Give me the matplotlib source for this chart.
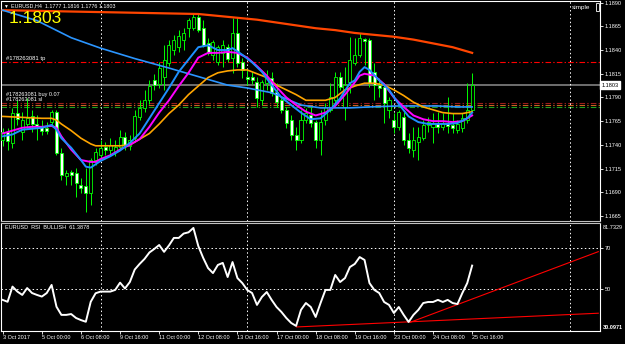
import matplotlib.pyplot as plt
from matplotlib.patches import Rectangle
from matplotlib.transforms import blended_transform_factory

plt.rcParams['font.family'] = ['Liberation Sans', 'DejaVu Sans']

## EURUSD H4 candles, bar 0 = 3 Oct 2017 16:00, bar 96 = 25 Oct 16:00
opens = [1.1745, 1.1754, 1.1742, 1.1774, 1.1754, 1.1762, 1.1770, 1.1762, 1.1760, 1.1758,
         1.1764, 1.1775, 1.1731, 1.1707, 1.1711, 1.1710, 1.1698, 1.1697, 1.1689, 1.1724,
         1.1729, 1.1738, 1.1735, 1.1732, 1.1738, 1.1748, 1.1739, 1.1747, 1.1769, 1.1779,
         1.1787, 1.1808, 1.1804, 1.1812, 1.1826, 1.1840, 1.1843, 1.1851, 1.1863, 1.1863,
         1.1875, 1.1863, 1.1847, 1.1835, 1.1827, 1.1837, 1.1843, 1.1832, 1.1858, 1.1827,
         1.1812, 1.1812, 1.1806, 1.1787, 1.1805, 1.1811, 1.1796, 1.1787, 1.1777, 1.1766,
         1.1750, 1.1745, 1.1766, 1.1771, 1.1764, 1.1745, 1.1766, 1.1777, 1.1787, 1.1812,
         1.1780, 1.1806, 1.1826, 1.1835, 1.1852, 1.1851, 1.1817, 1.1803, 1.1801, 1.1777,
         1.1766, 1.1759, 1.1769, 1.1745, 1.1735, 1.1743, 1.1747, 1.1761, 1.1759, 1.1763,
         1.1759, 1.1763, 1.1761, 1.1756, 1.1758, 1.1766, 1.1777]
highs = [1.1758, 1.1758, 1.1779, 1.1787, 1.1775, 1.1789, 1.1777, 1.1771, 1.1766, 1.1764,
         1.1777, 1.1777, 1.1737, 1.1713, 1.1713, 1.1716, 1.1705, 1.1716, 1.1726, 1.1737,
         1.1745, 1.1743, 1.1747, 1.1745, 1.1756, 1.1754, 1.1750, 1.1777, 1.1787, 1.1798,
         1.1808, 1.1815, 1.1827, 1.1845, 1.1851, 1.1856, 1.1861, 1.1863, 1.1874, 1.1879,
         1.1879, 1.1872, 1.1853, 1.1851, 1.1845, 1.1851, 1.1846, 1.1874, 1.1875, 1.1832,
         1.1819, 1.1817, 1.1812, 1.1808, 1.1819, 1.1817, 1.1805, 1.1789, 1.1780, 1.1771,
         1.1759, 1.1777, 1.1779, 1.1780, 1.1766, 1.1777, 1.1784, 1.1805, 1.1817, 1.1817,
         1.1822, 1.1854, 1.1853, 1.1858, 1.1853, 1.1853, 1.1826, 1.1811, 1.1805, 1.1790,
         1.1774, 1.1777, 1.1775, 1.1752, 1.1759, 1.1759, 1.1766, 1.1769, 1.1774, 1.1775,
         1.1774, 1.1790, 1.1774, 1.1766, 1.1774, 1.1805, 1.1816]
lows = [1.1739, 1.1735, 1.1737, 1.1761, 1.1745, 1.1758, 1.1754, 1.1745, 1.1750, 1.1751,
        1.1760, 1.1729, 1.1703, 1.1698, 1.1698, 1.1685, 1.1689, 1.1669, 1.1677, 1.1719,
        1.1724, 1.1729, 1.1729, 1.1728, 1.1735, 1.1735, 1.1735, 1.1743, 1.1766, 1.1775,
        1.1783, 1.1798, 1.1800, 1.1798, 1.1823, 1.1835, 1.1838, 1.1840, 1.1854, 1.1861,
        1.1859, 1.1843, 1.1835, 1.1830, 1.1824, 1.1822, 1.1827, 1.1816, 1.1822, 1.1811,
        1.1803, 1.1804, 1.1780, 1.1782, 1.1798, 1.1792, 1.1780, 1.1774, 1.1758, 1.1745,
        1.1735, 1.1742, 1.1763, 1.1759, 1.1737, 1.1729, 1.1761, 1.1775, 1.1784, 1.1798,
        1.1766, 1.1795, 1.1824, 1.1833, 1.1824, 1.1801, 1.1787, 1.1790, 1.1763, 1.1768,
        1.1752, 1.1756, 1.1740, 1.1731, 1.1727, 1.1724, 1.1745, 1.1754, 1.1742, 1.1752,
        1.1756, 1.1752, 1.1752, 1.1752, 1.1754, 1.1763, 1.1776]
closes = [1.1754, 1.1744, 1.1774, 1.1767, 1.1766, 1.1768, 1.1762, 1.1760, 1.1755, 1.1755,
          1.1775, 1.1731, 1.1708, 1.1710, 1.1708, 1.1700, 1.1694, 1.1689, 1.1724, 1.1732,
          1.1737, 1.1735, 1.1740, 1.1738, 1.1748, 1.1740, 1.1745, 1.1770, 1.1779, 1.1787,
          1.1802, 1.1803, 1.1821, 1.1830, 1.1845, 1.1851, 1.1855, 1.1858, 1.1872, 1.1875,
          1.1861, 1.1845, 1.1837, 1.1848, 1.1843, 1.1845, 1.1831, 1.1858, 1.1826, 1.1819,
          1.1809, 1.1808, 1.1789, 1.1806, 1.1812, 1.1795, 1.1785, 1.1777, 1.1763, 1.1750,
          1.1745, 1.1766, 1.1774, 1.1763, 1.1745, 1.1764, 1.1780, 1.1790, 1.1812, 1.1801,
          1.1803, 1.1830, 1.1835, 1.1853, 1.1850, 1.1805, 1.1803, 1.1800, 1.1784, 1.1787,
          1.1759, 1.1775, 1.1745, 1.1737, 1.1745, 1.1748, 1.1761, 1.1764, 1.1763, 1.1759,
          1.1763, 1.1760, 1.1758, 1.1762, 1.1768, 1.1777, 1.1803]

## moving averages (bar index, price)
fast_bars = [0, 2, 4, 6, 8, 10, 11, 12, 14, 16, 17, 18, 20, 22, 24, 26, 28, 30, 32, 34,
             36, 38, 40, 42, 44, 46, 47, 49, 51, 53, 55, 57, 59, 61, 63, 65, 67, 69, 71, 72,
             73, 74, 75, 77, 79, 81, 83, 85, 87, 89, 91, 93, 95, 96]
fast_vals = [1.1749, 1.1751, 1.1756, 1.1757, 1.1758, 1.1761, 1.1756, 1.1747, 1.1737, 1.1724,
             1.1717, 1.1716, 1.1723, 1.1728, 1.1734, 1.1742, 1.1752, 1.1768, 1.1784, 1.1800,
             1.1817, 1.1830, 1.1843, 1.1845, 1.1840, 1.1840, 1.1842, 1.1835, 1.1827, 1.1817,
             1.1803, 1.1790, 1.1782, 1.1774, 1.1767, 1.1768, 1.1777, 1.1789, 1.1805, 1.1808,
             1.1817, 1.1822, 1.1819, 1.1808, 1.1798, 1.1783, 1.1770, 1.1764, 1.1762, 1.1762,
             1.1762, 1.1763, 1.1768, 1.1774]
mid_bars = [0, 2, 4, 6, 8, 10, 11, 12, 14, 16, 18, 19, 20, 22, 24, 26, 28, 30, 32, 34,
            36, 38, 40, 42, 44, 46, 48, 50, 52, 54, 56, 58, 60, 62, 64, 66, 68, 70, 72, 73,
            74, 76, 78, 80, 82, 84, 86, 88, 90, 92, 94, 96]
mid_vals = [1.1752, 1.1755, 1.1758, 1.1759, 1.1759, 1.1760, 1.1758, 1.1749, 1.1735, 1.1724,
            1.1722, 1.1722, 1.1725, 1.1729, 1.1735, 1.1740, 1.1746, 1.1759, 1.1774, 1.1787,
            1.1802, 1.1816, 1.1832, 1.1837, 1.1837, 1.1838, 1.1837, 1.1832, 1.1823, 1.1813,
            1.1801, 1.1790, 1.1782, 1.1775, 1.1771, 1.1774, 1.1781, 1.1793, 1.1806, 1.1813,
            1.1815, 1.1813, 1.1804, 1.1790, 1.1780, 1.1771, 1.1767, 1.1765, 1.1765, 1.1764,
            1.1765, 1.1771]
slow_bars = [0, 4, 8, 10, 11, 12, 14, 16, 18, 19, 20, 22, 24, 26, 28, 30, 32, 34, 36, 38,
             40, 42, 44, 46, 48, 50, 52, 54, 56, 58, 60, 62, 64, 66, 68, 70, 72, 74, 76, 78,
             80, 82, 84, 86, 88, 90, 92, 94, 96]
slow_vals = [1.1770, 1.1769, 1.1768, 1.1768, 1.1766, 1.1762, 1.1755, 1.1747, 1.1741, 1.1739,
             1.1739, 1.1739, 1.1739, 1.1740, 1.1746, 1.1752, 1.1762, 1.1773, 1.1782, 1.1793,
             1.1802, 1.1811, 1.1816, 1.1818, 1.1819, 1.1819, 1.1815, 1.1811, 1.1803, 1.1798,
             1.1793, 1.1787, 1.1787, 1.1787, 1.1790, 1.1798, 1.1802, 1.1805, 1.1805, 1.1803,
             1.1798, 1.1792, 1.1785, 1.1780, 1.1777, 1.1774, 1.1773, 1.1773, 1.1775]
long_bars = [0, 7, 14, 20, 27, 34, 40, 46, 50, 55, 61, 65, 71, 75, 81, 89, 93, 96]
long_vals = [1.1882, 1.1871, 1.1853, 1.1842, 1.1831, 1.1821, 1.1812, 1.1803, 1.1800, 1.1795,
             1.1782, 1.1779, 1.1779, 1.1780, 1.1781, 1.1781, 1.1780, 1.1780]
trend_bars = [0, 10, 20, 30, 40, 44, 48, 52, 56, 60, 64, 68, 72, 76, 80, 84, 88, 92, 96]
trend_vals = [1.1882, 1.1881, 1.1880, 1.1879, 1.1878, 1.1876, 1.1874, 1.1872, 1.1869, 1.1866,
              1.1863, 1.1861, 1.1858, 1.1856, 1.1854, 1.1851, 1.1847, 1.1843, 1.1837]

## RSI per bar
rsi_vals = [44.9, 44.0, 51.3, 48.9, 47.3, 50.6, 48.2, 47.3, 46.5, 48.2,
            52.1, 41.6, 37.7, 37.7, 38.1, 36.2, 35.2, 34.4, 44.0, 48.1,
            48.9, 48.9, 48.9, 49.7, 53.2, 50.4, 53.5, 59.5, 62.2, 64.6,
            67.7, 69.4, 71.3, 68.0, 71.1, 74.7, 74.7, 76.8, 77.4, 79.5,
            70.8, 65.1, 60.2, 57.8, 61.7, 62.7, 55.9, 63.1, 55.4, 53.0,
            49.7, 48.2, 42.5, 46.3, 48.7, 44.9, 41.5, 39.1, 36.2, 33.8,
            32.4, 40.1, 43.4, 41.5, 36.7, 43.4, 49.7, 49.7, 56.9, 53.5,
            55.4, 60.7, 62.2, 65.5, 64.1, 53.0, 49.7, 48.2, 43.9, 42.5,
            38.6, 41.5, 37.7, 34.3, 37.7, 40.1, 43.4, 43.9, 43.9, 44.9,
            43.9, 44.9, 43.4, 42.9, 48.2, 53.0, 61.4]
rsi_min, rsi_max = 30.0971, 81.7329
# trend lines drawn on RSI: (bar, value) endpoints
rsi_line_low = ([60.1, 121.8], [31.9, 38.5])
rsi_line_up = ([83.3, 121.8], [34.1, 68.1])

## levels
tp_level = 1.1827
order_levels = [1.1784, 1.1782, 1.1780]
order_colors = ['#9b1c1c', '#c8641e', '#1fa01f']
bid = 1.1803

price_ticks = [1.1890, 1.1865, 1.1840, 1.1815, 1.1790, 1.1765, 1.1740, 1.1715, 1.1690, 1.1665]
date_bars = [0, 8, 16, 24, 32, 40, 48, 56, 64, 72, 80, 88, 96]
date_labels = ['3 Oct 2017', '5 Oct 00:00', '6 Oct 08:00', '9 Oct 16:00', '11 Oct 00:00',
               '12 Oct 08:00', '13 Oct 16:00', '17 Oct 00:00', '18 Oct 08:00', '19 Oct 16:00',
               '23 Oct 00:00', '24 Oct 08:00', '25 Oct 16:00']
grid_bars = [20, 50, 80, 116]

# figure layout in pixels
W, H = 625, 344


def box(x0, y0, x1, y1):
    return [x0 / W, 1 - y1 / H, (x1 - x0) / W, (y1 - y0) / H]


fig = plt.figure(figsize=(6.25, 3.44), dpi=100, facecolor='black')
ax = fig.add_axes(box(1, 1, 600, 221), facecolor='black')
ax2 = fig.add_axes(box(1, 223.3, 600, 330.7), facecolor='black')

xlim = (-0.35, 122.15)
dotted = (0, (1.5, 2.5))

## candles
x = list(range(len(opens)))
body_lo = [min(o, c) for o, c in zip(opens, closes)]
body_h = [max(abs(c - o), 0.00003) for o, c in zip(opens, closes)]
fills = ['black' if c >= o else 'white' for o, c in zip(opens, closes)]
ax.vlines(x, lows, highs, color='#00ff00', lw=0.7, zorder=2)
ax.bar(x, body_h, bottom=body_lo, width=0.62, color=fills, edgecolor='#00ff00',
       linewidth=0.6, zorder=3)

# moving averages
ax.plot(trend_bars, trend_vals, color='#ff4500', lw=1.6, zorder=4)
ax.plot(long_bars, long_vals, color='#2b95ff', lw=1.2, zorder=4)
ax.plot(slow_bars, slow_vals, color='#ffa500', lw=1.2, zorder=5)
ax.plot(mid_bars, mid_vals, color='#ff00ff', lw=1.4, zorder=6)
ax.plot(fast_bars, fast_vals, color='#1e90ff', lw=1.4, zorder=7)

# price / order lines
ax.axhline(bid, color='#6e6e6e', lw=1.4, zorder=1)
ax.axhline(tp_level, color='#ff0000', lw=0.8, ls=(0, (5, 2, 1.2, 2)), zorder=1)
for lvl, col in zip(order_levels, order_colors):
    ax.axhline(lvl, color=col, lw=0.8, ls=(0, (5, 2, 1.2, 2)), zorder=1)

for b in grid_bars:
    ax.axvline(b, color='white', lw=0.7, ls=dotted, zorder=1)
    ax2.axvline(b, color='white', lw=0.7, ls=dotted, zorder=1)

blend = blended_transform_factory(ax.transAxes, ax.transData)
ax.text(0.009, tp_level + 0.0001, '#178263081 tp', transform=blend, color='white',
        fontsize=4.2, va='bottom')
# the two order labels sit one above the other
ax.text(0.009, order_levels[0] + 0.00062, '#178263081 buy 0.07', transform=blend,
        color='white', fontsize=4.0, va='bottom')
ax.text(0.009, order_levels[0] + 0.0001, '#178263081 sl', transform=blend,
        color='white', fontsize=4.0, va='bottom')
ax.text(1.002, bid, '1.1803', transform=blend, color='black', fontsize=4, va='center',
        ha='left', clip_on=False, zorder=10,
        bbox=dict(boxstyle='square,pad=0.3', fc='white', ec='white'))

ax.set_xlim(*xlim)
ax.set_ylim(1.16597, 1.18917)
ax.set_xticks([])
ax.yaxis.tick_right()
ax.set_yticks(price_ticks)
ax.set_yticklabels([f'{p:.4f}' for p in price_ticks])
ax.tick_params(axis='y', colors='white', labelsize=4, length=2, width=0.6, pad=1.5)

## RSI panel
ax2.plot(x, rsi_vals, color='white', lw=1.4, zorder=4)
ax2.plot(*rsi_line_low, color='#ff0000', lw=0.8, zorder=3)
ax2.plot(*rsi_line_up, color='#ff0000', lw=0.8, zorder=3)
for lvl in [70, 50]:
    ax2.axhline(lvl, color='white', lw=0.7, ls=dotted, zorder=1)
ax2.set_xlim(*xlim)
ax2.set_ylim(rsi_min, rsi_max)
ax2.yaxis.tick_right()
ax2.set_yticks([70, 50])
ax2.set_yticklabels(['70', '50'])
ax2.tick_params(axis='y', colors='white', labelsize=4, length=2, width=0.6, pad=1.5)
ax2.set_xticks(date_bars)
ax2.set_xticklabels(date_labels)
ax2.tick_params(axis='x', colors='white', labelsize=4, length=2, width=0.6, pad=0.8)
for lab in ax2.get_xticklabels():
    lab.set_horizontalalignment('left')
ax2.text(0.006, 0.96, 'EURUSD  RSI  BULLISH  61.3878', transform=ax2.transAxes,
         color='white', fontsize=4, va='center')
fig.text(603 / W, 1 - 227.3 / H, f'{rsi_max:.4f}', color='white', fontsize=4, va='center')
fig.text(603 / W, 1 - 327.5 / H, f'{rsi_min:.4f}', color='white', fontsize=4, va='center',
         fontweight='bold')

# borders
for a in (ax, ax2):
    for side in a.spines:
        a.spines[side].set_color('white')
        a.spines[side].set_linewidth(0.8)
ax.spines['bottom'].set_color('#c0c0c0')
ax2.spines['top'].set_color('#c0c0c0')

## header texts
fig.text(3 / W, 1 - 6 / H, '\u25bc', color='white', fontsize=3.5, va='center')
fig.text(11 / W, 1 - 6 / H, 'EURUSD,H4  1.1777 1.1816 1.1776 1.1803', color='white',
         fontsize=3.9, va='center')
fig.text(9 / W, 1 - 18.5 / H, '1.1803', color='#ffff00', fontsize=12.5, va='center')
fig.text(572 / W, 1 - 7 / H, 'simple', color='white', fontsize=4.6, va='center')
fig.patches.append(Rectangle((595.5 / W, 1 - 10.5 / H), 3.5 / W, 7 / H,
                             transform=fig.transFigure, fill=False, ec='white', lw=0.6))

fig.savefig('out.png', dpi=100, facecolor='black')
